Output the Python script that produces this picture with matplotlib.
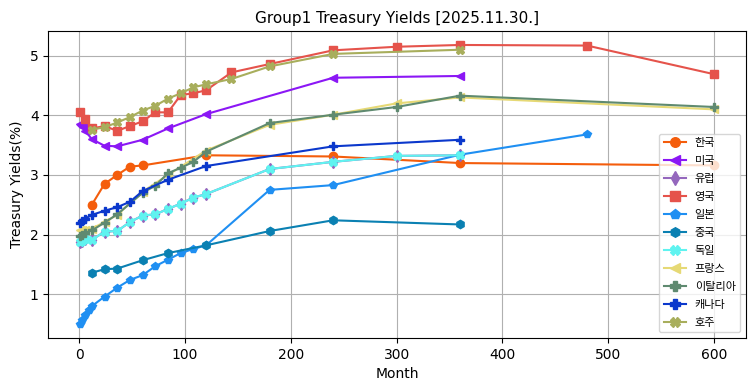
import matplotlib
matplotlib.use("Agg")
import matplotlib.pyplot as plt

plt.rcParams['font.family'] = ['DejaVu Sans', 'Noto Sans CJK KR']

names = ['한국', '미국', '유럽', '영국', '일본', '중국', '독일', '프랑스', '이탈리아', '캐나다', '호주']

kr_m = [12, 24, 36, 48, 60, 120, 240, 360, 600]
kr_y = [2.50, 2.85, 3.00, 3.14, 3.16, 3.33, 3.31, 3.20, 3.16]

us_m = [1, 2, 3, 4, 6, 12, 24, 36, 60, 84, 120, 240, 360]
us_y = [3.86, 3.84, 3.82, 3.80, 3.74, 3.60, 3.49, 3.48, 3.59, 3.78, 4.02, 4.63, 4.66]

eu_m = [1, 3, 6, 12, 24, 36, 48, 60, 72, 84, 96, 108, 120, 180, 240, 300, 360]
eu_y = [1.88, 1.90, 1.92, 1.91, 2.05, 2.06, 2.21, 2.32, 2.34, 2.43, 2.52, 2.62, 2.68, 3.10, 3.22, 3.32, 3.33]

uk_m = [1, 6, 12, 24, 36, 48, 60, 72, 84, 96, 108, 120, 144, 180, 240, 300, 360, 480, 600]
uk_y = [4.05, 3.94, 3.78, 3.82, 3.74, 3.82, 3.90, 4.05, 4.05, 4.34, 4.37, 4.42, 4.72, 4.86, 5.09, 5.15, 5.18, 5.17, 4.69]

jp_m = [1, 3, 6, 9, 12, 24, 36, 48, 60, 72, 84, 96, 108, 120, 180, 240, 360, 480]
jp_y = [0.50, 0.57, 0.66, 0.74, 0.80, 0.96, 1.11, 1.24, 1.32, 1.47, 1.58, 1.69, 1.76, 1.82, 2.75, 2.83, 3.34, 3.68]

cn_m = [12, 24, 36, 60, 84, 120, 180, 240, 360]
cn_y = [1.36, 1.42, 1.43, 1.57, 1.69, 1.82, 2.06, 2.24, 2.17]

de_m = [1, 3, 6, 12, 24, 36, 48, 60, 72, 84, 96, 108, 120, 180, 240, 300, 360]
de_y = [1.88, 1.90, 1.92, 1.91, 2.05, 2.06, 2.21, 2.32, 2.34, 2.43, 2.52, 2.62, 2.68, 3.10, 3.22, 3.32, 3.33]

fr_m = [1, 3, 6, 12, 24, 36, 60, 84, 120, 180, 240, 300, 360, 600]
fr_y = [2.07, 2.07, 2.08, 2.10, 2.21, 2.33, 2.72, 3.00, 3.41, 3.84, 4.01, 4.20, 4.30, 4.10]

it_m = [1, 3, 6, 12, 24, 36, 60, 72, 84, 96, 108, 120, 180, 240, 300, 360, 600]
it_y = [1.98, 2.00, 2.03, 2.07, 2.20, 2.34, 2.70, 2.82, 3.03, 3.12, 3.22, 3.39, 3.87, 4.01, 4.14, 4.33, 4.14]

ca_m = [1, 3, 6, 12, 24, 36, 48, 60, 84, 120, 240, 360]
ca_y = [2.20, 2.23, 2.27, 2.33, 2.40, 2.46, 2.55, 2.73, 2.92, 3.15, 3.48, 3.59]

au_m = [12, 24, 36, 48, 60, 72, 84, 96, 108, 120, 144, 180, 240, 360]
au_y = [3.76, 3.80, 3.88, 3.97, 4.08, 4.16, 4.28, 4.37, 4.47, 4.52, 4.61, 4.82, 5.03, 5.10]

series = [(kr_m, kr_y), (us_m, us_y), (eu_m, eu_y), (uk_m, uk_y), (jp_m, jp_y), (cn_m, cn_y),
          (de_m, de_y), (fr_m, fr_y), (it_m, it_y), (ca_m, ca_y), (au_m, au_y)]
markers = ['o', '<', 'd', 's', 'p', 'h', 'X', '<', 'P', 'P', 'X']
colors = ['#f45d0c', '#8b17f5', '#9467bd', '#e5534b', '#1f8ff2', '#0a80b2',
          '#5ff3f0', '#e6d975', '#5f8a70', '#0b38cc', '#a8ae5c']

fig = plt.figure(figsize=(7.55, 3.91), dpi=100)
ax = fig.add_axes([0.0642, 0.1355, 0.9235, 0.7852])
for name, (m, y), mk, c in zip(names, series, markers, colors):
    ax.plot(m, y, marker=mk, color=c, label=name, markersize=6, linewidth=1.5)

ax.set_title('Group1 Treasury Yields [2025.11.30.]', fontsize=11)
ax.set_xlabel('Month')
ax.set_ylabel('Treasury Yields(%)')
ax.grid(True)
ax.legend(loc='lower right', prop={'family': ['Noto Sans CJK KR'], 'size': 8},
          labelspacing=0.72, markerscale=1.15)
fig.savefig('out.png', dpi=100)
